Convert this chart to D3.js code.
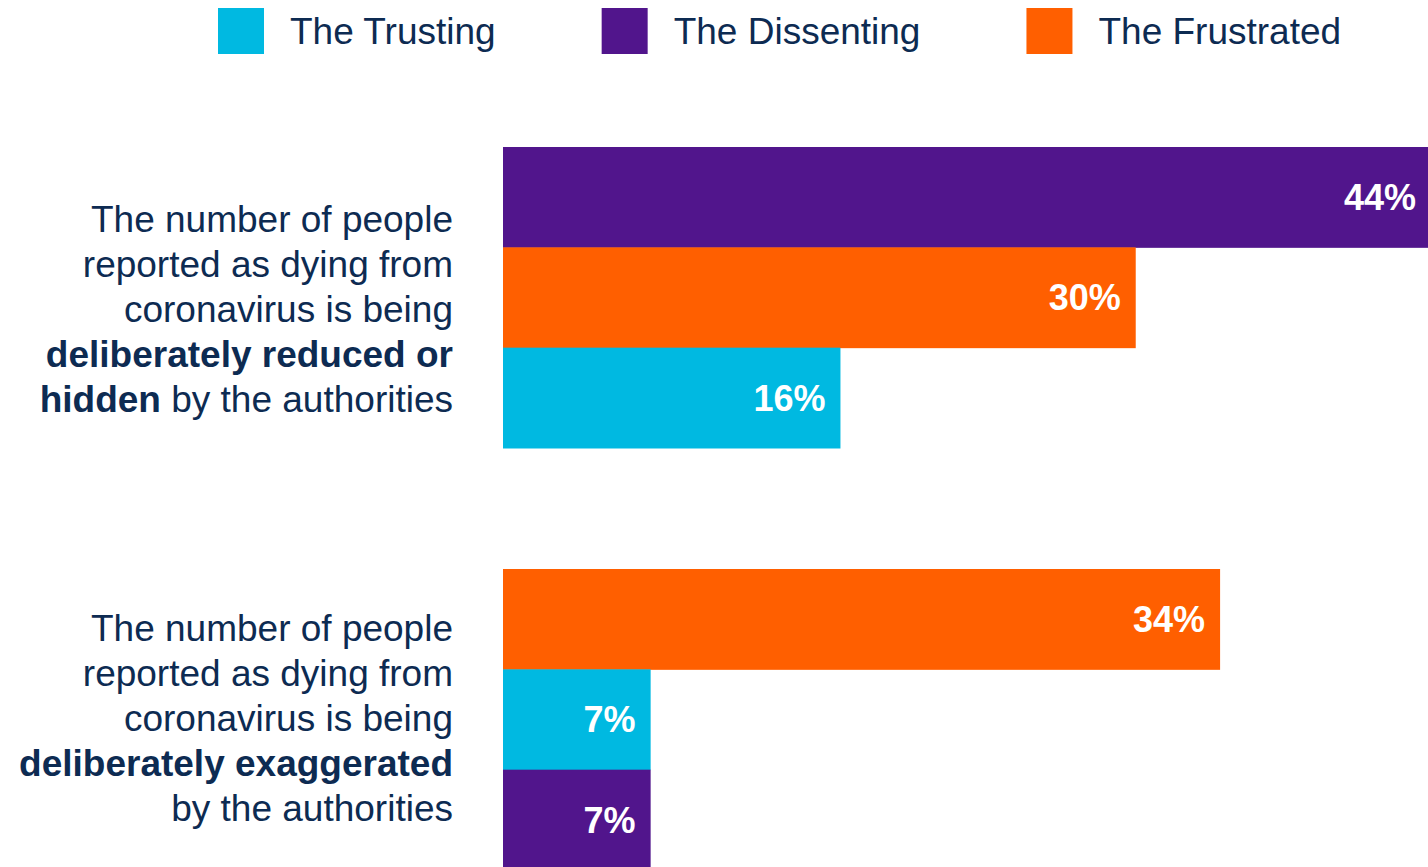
<!DOCTYPE html>
<html>
<head>
<meta charset="utf-8">
<script src="https://cdn.jsdelivr.net/npm/d3@7/dist/d3.min.js"></script>
<style>
  html, body { margin: 0; padding: 0; background: #fff; overflow: hidden; }
  svg { display: block; font-family: "Liberation Sans", Arial, Helvetica, sans-serif; }
</style>
</head>
<body>
<svg id="chart" width="1428" height="867"></svg>
<script>
// Segments and their colours
const segments = ["The Trusting", "The Dissenting", "The Frustrated"];
const segmentColors = ["#00B9E1", "#51158C", "#FF5F00"];

// Statements (each line is a list of [text, bold] runs)
const questions = ["reduced", "exaggerated"];
const questionLines = [
  [
    [["The number of people", false]],
    [["reported as dying from", false]],
    [["coronavirus is being", false]],
    [["deliberately reduced or", true]],
    [["hidden", true], [" by the authorities", false]]
  ],
  [
    [["The number of people", false]],
    [["reported as dying from", false]],
    [["coronavirus is being", false]],
    [["deliberately exaggerated", true]],
    [["by the authorities", false]]
  ]
];

// Share agreeing, per statement, in segment order (Trusting, Dissenting, Frustrated)
const valuesReduced = [16, 44, 30];
const valuesExaggerated = [7, 7, 34];
const seriesValues = [valuesReduced, valuesExaggerated];

const textColor = "#0D2B52";
const svg = d3.select("#chart");

// Scales
const x = d3.scaleLinear().domain([0, 44]).range([503, 1431]);
const y0 = d3.scaleBand().domain(questions).range([147, 991]);
const y1 = d3.scaleBand().domain([0, 1, 2]).range([0, 301]);

// Vertical nudge of each statement's text block relative to its bars
const labelShift = [24.5, 11.5];
const lineHeight = 45;

questions.forEach((q, qi) => {
  const rows = segments.map((s, si) => ({ seg: s, si, value: seriesValues[qi][si] }))
    .sort((a, b) => d3.descending(a.value, b.value));

  const g = svg.append("g").attr("transform", `translate(0,${y0(q)})`);

  g.selectAll("rect").data(rows).join("rect")
    .attr("x", x(0))
    .attr("y", (d, i) => y1(i))
    .attr("width", d => x(d.value) - x(0))
    .attr("height", y1.bandwidth() + 0.5)
    .attr("fill", d => segmentColors[d.si]);

  g.selectAll("text.val").data(rows).join("text")
    .attr("class", "val")
    .attr("x", d => x(d.value) - 15)
    .attr("y", (d, i) => y1(i) + y1.bandwidth() / 2)
    .attr("dy", "0.36em")
    .attr("text-anchor", "end")
    .attr("fill", "#fff")
    .attr("font-weight", "bold")
    .attr("font-size", 36)
    .text(d => d.value + "%");

  // Statement text, right-aligned beside the bars
  const mid = 301 / 2 + labelShift[qi];
  const lines = questionLines[qi];
  lines.forEach((runs, li) => {
    const t = g.append("text")
      .attr("x", 453)
      .attr("y", mid + (li - (lines.length - 1) / 2) * lineHeight)
      .attr("text-anchor", "end")
      .attr("fill", textColor)
      .attr("font-size", 37);
    runs.forEach(([txt, bold]) => {
      t.append("tspan")
        .attr("font-weight", bold ? "bold" : "normal")
        .style("white-space", "pre")
        .text(txt);
    });
  });
});

// Legend
const legend = svg.append("g");
let lx = 218;
segments.forEach((s, i) => {
  legend.append("rect")
    .attr("x", lx).attr("y", 8)
    .attr("width", 46).attr("height", 46)
    .attr("fill", segmentColors[i]);
  const t = legend.append("text")
    .attr("x", lx + 72).attr("y", 44)
    .attr("fill", textColor)
    .attr("font-size", 37)
    .text(s);
  lx = lx + 72 + t.node().getComputedTextLength() + 106;
});
</script>
</body>
</html>
